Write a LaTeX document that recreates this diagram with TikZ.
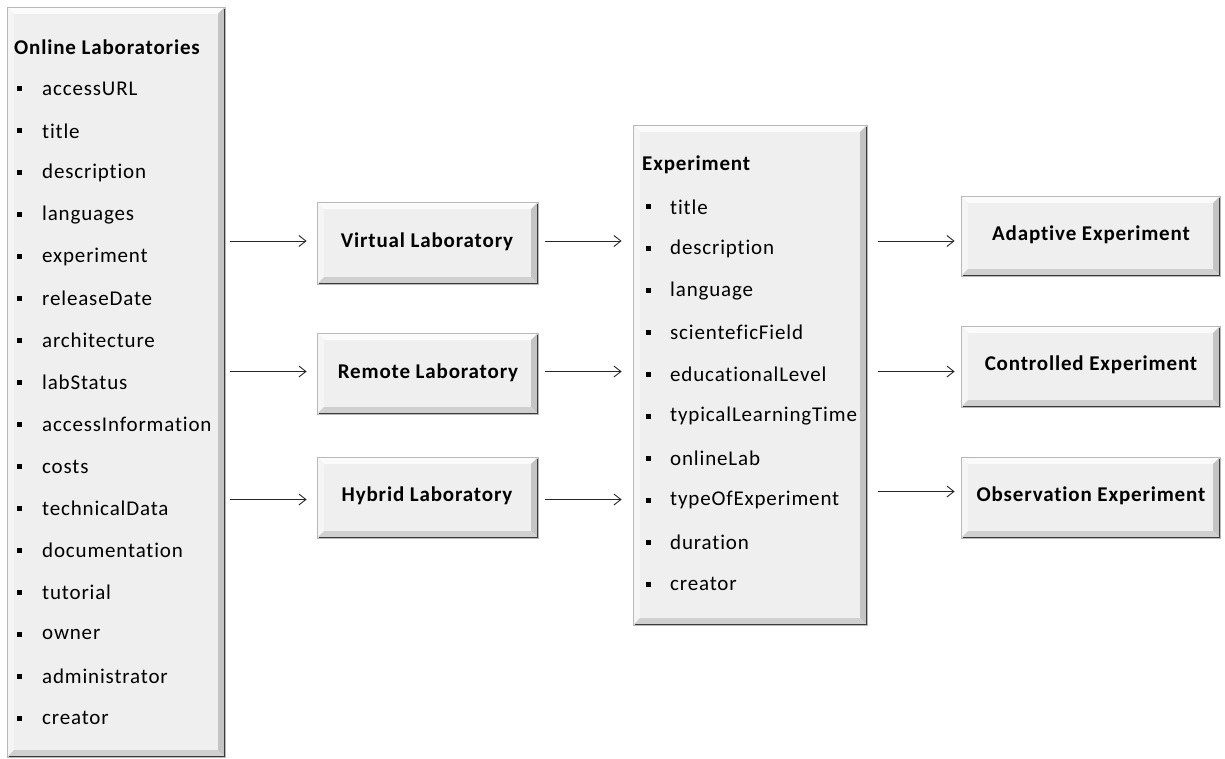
\documentclass[tikz,border=0pt]{standalone}
\usepackage{fontspec}
\setmainfont{Carlito}[Ligatures={NoCommon}]
\usetikzlibrary{arrows.meta,calc}
\definecolor{boxfill}{HTML}{EFEFEF}
\definecolor{bevlight}{HTML}{FBFBFB}
\definecolor{bevdark}{HTML}{C4C4C4}
\definecolor{edgedark}{HTML}{3A3A3A}
\newcommand{\dgmfont}{\fontsize{21}{25}\selectfont\addfontfeatures{LetterSpace=4}}
\tikzset{
  bevelbox/.style={
    rectangle, fill=boxfill, draw=gray!55, line width=0.8pt, inner sep=0pt,
    path picture={
      \coordinate (nw) at (path picture bounding box.north west);
      \coordinate (ne) at (path picture bounding box.north east);
      \coordinate (sw) at (path picture bounding box.south west);
      \coordinate (se) at (path picture bounding box.south east);
      \fill[bevlight] (nw) -- (ne) -- ([shift={(-7pt,-7pt)}]ne) -- ([shift={(7pt,-7pt)}]nw) -- cycle;
      \fill[white!96!black] (nw) -- ([shift={(7pt,-7pt)}]nw) -- ([shift={(7pt,7pt)}]sw) -- (sw) -- cycle;
      \fill[bevdark] (ne) -- (se) -- ([shift={(-7pt,7pt)}]se) -- ([shift={(-7pt,-7pt)}]ne) -- cycle;
      \fill[bevdark!80!white] (sw) -- (se) -- ([shift={(-7pt,7pt)}]se) -- ([shift={(7pt,7pt)}]sw) -- cycle;
      \draw[edgedark, line width=3pt] ([yshift=-2pt]ne) -- (se) -- ([xshift=2pt]sw);
    }
  },
  boxtitle/.style={font=\dgmfont\bfseries, text=black},
  itemtext/.style={font=\dgmfont, anchor=west, inner sep=0pt, text=black},
  bulletmark/.style={fill=black, minimum size=5pt, inner sep=0pt, rectangle},
  link/.style={-{Straight Barb[length=7pt,width=11pt]}, line width=0.9pt, draw=black!85}
}
\begin{document}
\begin{tikzpicture}[x=1pt,y=-1pt]
\useasboundingbox (0,0) rectangle (1225,759);

% boxes
\node[bevelbox, minimum width=218pt, minimum height=750pt] (ol) at (116,382) {};
\node[bevelbox, minimum width=221pt, minimum height=82pt] (vl) at (427.5,243) {};
\node[bevelbox, minimum width=221pt, minimum height=81pt] (rl) at (427.5,373.5) {};
\node[bevelbox, minimum width=221pt, minimum height=81pt] (hl) at (427.5,497.5) {};
\node[bevelbox, minimum width=234pt, minimum height=500pt] (ex) at (750,375) {};
\node[bevelbox, minimum width=259pt, minimum height=80pt] (ae) at (1090.5,236) {};
\node[bevelbox, minimum width=259pt, minimum height=81pt] (ce) at (1090.5,366.5) {};
\node[bevelbox, minimum width=259pt, minimum height=81pt] (oe) at (1090.5,497.5) {};

% titles of small boxes
\node[boxtitle] (vlt) at (427,242) {Virtual Laboratory};
\node[boxtitle] (rlt) at (428,373) {Remote Laboratory};
\node[boxtitle] (hlt) at (427,496) {Hybrid Laboratory};
\node[boxtitle] (aet) at (1091,235) {Adaptive Experiment};
\node[boxtitle] (cet) at (1091,365) {Controlled Experiment};
\node[boxtitle] (oet) at (1091,496) {Observation Experiment};

% Online Laboratories list
\node[itemtext] (olh) at (14,47) {\bfseries Online Laboratories};
\foreach \t [count=\i] in {accessURL,title,description,languages,experiment,releaseDate,architecture,labStatus,accessInformation,costs,technicalData,documentation,tutorial,owner,administrator,creator}{
  \node[bulletmark] (olb\i) at (19,{47+\i*41.95}) {};
  \node[itemtext] (oli\i) at (42,{47+\i*41.95}) {\t};
}

% Experiment list
\node[itemtext] (exh) at (642,165) {\bfseries Experiment};
\foreach \t [count=\i] in {title,description,language,scienteficField,educationalLevel,typicalLearningTime,onlineLab,typeOfExperiment,duration,creator}{
  \node[bulletmark] (exb\i) at (648,{165+\i*41.9}) {};
  \node[itemtext] (exi\i) at (670,{165+\i*41.9}) {\t};
}

% connectors
\draw[link, shorten <=5pt, shorten >=10pt] ([yshift=2pt]ol.east |- vl.west) -- ([yshift=2pt]vl.west);
\draw[link, shorten <=5pt, shorten >=10pt] ([yshift=2pt]ol.east |- rl.west) -- ([yshift=2pt]rl.west);
\draw[link, shorten <=5pt, shorten >=10pt] ([yshift=-2pt]ol.east |- hl.west) -- ([yshift=-2pt]hl.west);

\draw[link, shorten <=7pt, shorten >=11pt] ([yshift=2pt]vl.east) -- ([yshift=2pt]ex.west |- vl.east);
\draw[link, shorten <=7pt, shorten >=11pt] ([yshift=2pt]rl.east) -- ([yshift=2pt]ex.west |- rl.east);
\draw[link, shorten <=7pt, shorten >=11pt] ([yshift=-2pt]hl.east) -- ([yshift=-2pt]ex.west |- hl.east);

\draw[link, shorten <=11pt, shorten >=6pt] ([yshift=-5pt]ex.east |- ae.west) -- ([yshift=-5pt]ae.west);
\draw[link, shorten <=11pt, shorten >=6pt] ([yshift=-5pt]ex.east |- ce.west) -- ([yshift=-5pt]ce.west);
\draw[link, shorten <=11pt, shorten >=6pt] ([yshift=6pt]ex.east |- oe.west) -- ([yshift=6pt]oe.west);
\end{tikzpicture}
\end{document}
